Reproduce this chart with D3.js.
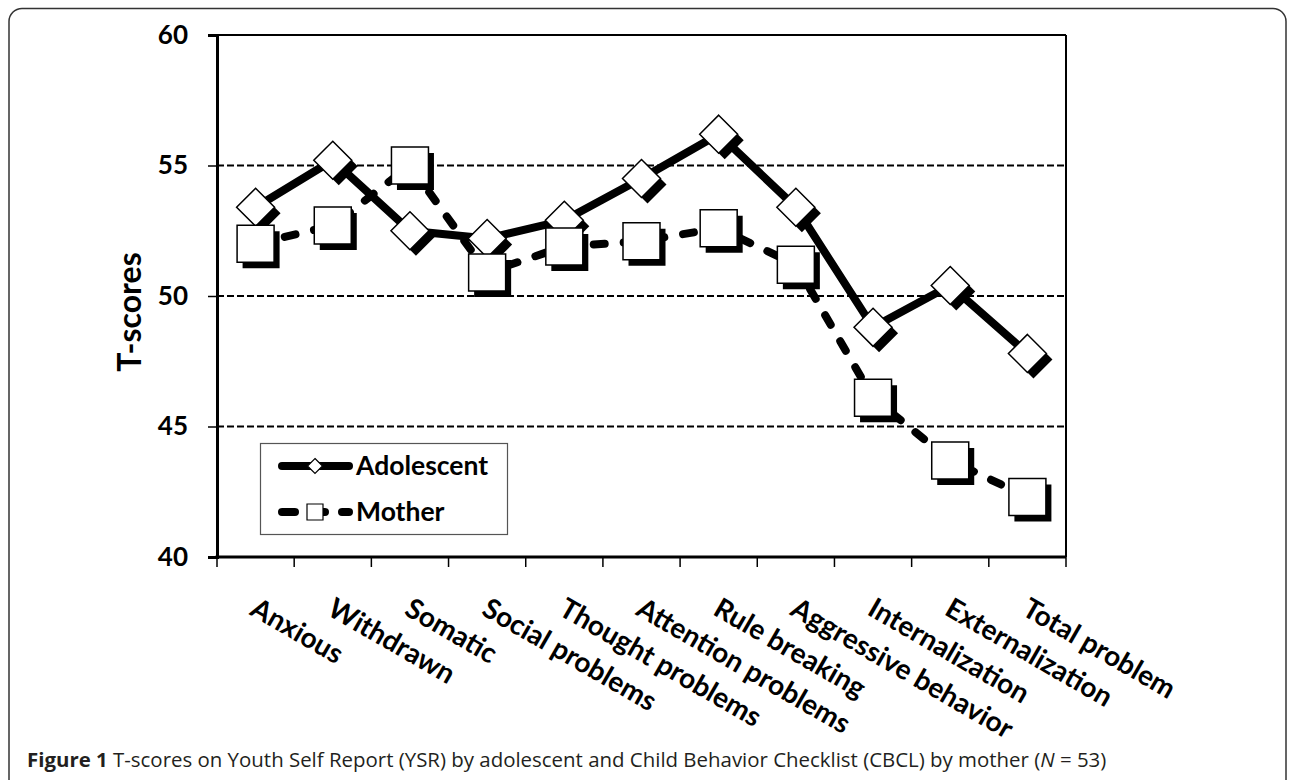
<!DOCTYPE html>
<html>
<head>
<meta charset="utf-8">
<script src="https://cdn.jsdelivr.net/npm/d3@7"></script>
<style>
  html, body { margin: 0; padding: 0; background: #fff; }
  svg { display: block; }
</style>
</head>
<body>
<svg id="chart" width="1290" height="780"></svg>
<script>
const categories = ["Anxious", "Withdrawn", "Somatic", "Social problems", "Thought problems",
  "Attention problems", "Rule breaking", "Aggressive behavior", "Internalization",
  "Externalization", "Total problem"];
const adolescent = [53.4, 55.2, 52.5, 52.2, 52.9, 54.5, 56.2, 53.4, 48.8, 50.4, 47.8];
const mother = [52.0, 52.7, 55.0, 50.9, 51.9, 52.1, 52.6, 51.2, 46.1, 43.7, 42.3];
const yTicks = [40, 45, 50, 55, 60];
const gridTicks = [45, 50, 55];
const seriesNames = ["Adolescent", "Mother"];
const yTitle = "T-scores";

(function () {
const svg = d3.select("#chart");
const FONT = "Lato, 'Open Sans', sans-serif";

const pLeft = 217, pRight = 1066, pTop = 35, pBottom = 557;
const x = d3.scaleBand().domain(categories).range([pLeft, pRight]);
const y = d3.scaleLinear().domain([40, 60]).range([pBottom, pTop]);
const cx = c => x(c) + x.bandwidth() / 2;

// outer frame
svg.append("rect")
  .attr("x", 9).attr("y", 8.5).attr("width", 1277).attr("height", 820)
  .attr("rx", 13).attr("fill", "none").attr("stroke", "#333").attr("stroke-width", 1.5);

// gridlines
svg.append("g").selectAll("line").data(gridTicks).join("line")
  .attr("x1", pLeft).attr("x2", pRight)
  .attr("y1", d => y(d)).attr("y2", d => y(d))
  .attr("stroke", "#000").attr("stroke-width", 2).attr("stroke-dasharray", "7,3");

// plot border top/right
svg.append("line").attr("x1", pLeft).attr("x2", pRight).attr("y1", y(60)).attr("y2", y(60))
  .attr("stroke", "#000").attr("stroke-width", 2);
svg.append("line").attr("x1", pRight).attr("x2", pRight).attr("y1", y(60)).attr("y2", y(40))
  .attr("stroke", "#000").attr("stroke-width", 2);

// y axis
const yAxis = svg.append("g").attr("transform", `translate(${pLeft},0)`)
  .call(d3.axisLeft(y).tickValues(yTicks).tickSize(9).tickPadding(20).tickFormat(d3.format("d")));
yAxis.select(".domain").attr("stroke", "#000").attr("stroke-width", 3);
yAxis.selectAll(".tick line").attr("stroke", "#000").attr("stroke-width", 1.5);
yAxis.selectAll(".tick text").attr("font-family", FONT).attr("font-weight", 700)
  .attr("font-size", 26).attr("fill", "#000");

// x axis: boundary ticks
const bounds = categories.map(c => x(c)).concat([x.range()[1]]);
svg.append("g").selectAll("line").data(bounds).join("line")
  .attr("x1", d => d).attr("x2", d => d).attr("y1", pBottom).attr("y2", pBottom + 10)
  .attr("stroke", "#000").attr("stroke-width", 1.5);
svg.append("line").attr("x1", pLeft - 1.5).attr("x2", pRight).attr("y1", pBottom).attr("y2", pBottom)
  .attr("stroke", "#000").attr("stroke-width", 3);

// x labels
svg.append("g").selectAll("text").data(categories).join("text")
  .attr("transform", d => `translate(${cx(d) - 7},${614}) rotate(30)`)
  .attr("font-family", FONT).attr("font-weight", 700).attr("font-size", 28)
  .attr("fill", "#000").attr("text-anchor", "start")
  .text(d => d);

// y title
svg.append("text")
  .attr("transform", "translate(141,312) rotate(-90)")
  .attr("text-anchor", "middle").attr("font-family", FONT).attr("font-weight", 700)
  .attr("font-size", 32).attr("fill", "#000").text(yTitle);

// series
const line = d3.line().x((d, i) => cx(categories[i])).y(d => y(d));
const diamond = (r) => `M0,${-r}L${r},0L0,${r}L${-r},0Z`;
const square = (s) => `M${-s},${-s}H${s}V${s}H${-s}Z`;

// Adolescent
svg.append("path").datum(adolescent).attr("d", line)
  .attr("fill", "none").attr("stroke", "#000").attr("stroke-width", 8)
  .attr("stroke-linejoin", "round");
const ga = svg.append("g").selectAll("g").data(adolescent).join("g")
  .attr("transform", (d, i) => `translate(${cx(categories[i])},${y(d)})`);
ga.append("path").attr("d", diamond(19)).attr("transform", "translate(6,6)").attr("fill", "#000");
ga.append("path").attr("d", diamond(19)).attr("fill", "#fff").attr("stroke", "#000").attr("stroke-width", 1.5);

// Mother
svg.append("path").datum(mother).attr("d", line)
  .attr("fill", "none").attr("stroke", "#000").attr("stroke-width", 8)
  .attr("stroke-linecap", "round").attr("stroke-dasharray", "11,19");
const gm = svg.append("g").selectAll("g").data(mother).join("g")
  .attr("transform", (d, i) => `translate(${cx(categories[i])},${y(d)})`);
gm.append("path").attr("d", square(18.5)).attr("transform", "translate(5.5,6)").attr("fill", "#000");
gm.append("path").attr("d", square(18.5)).attr("fill", "#fff").attr("stroke", "#000").attr("stroke-width", 1.5);

// legend
const lg = svg.append("g");
lg.append("rect").attr("x", 260.5).attr("y", 443.5).attr("width", 247).attr("height", 91)
  .attr("fill", "#fff").attr("stroke", "#555").attr("stroke-width", 1.2);
const rows = [466, 512];
lg.append("line").attr("x1", 282).attr("x2", 349).attr("y1", rows[0]).attr("y2", rows[0])
  .attr("stroke", "#000").attr("stroke-width", 8).attr("stroke-linecap", "round");
lg.append("path").attr("d", diamond(7.5)).attr("transform", `translate(315,${rows[0]})`)
  .attr("fill", "#fff").attr("stroke", "#000").attr("stroke-width", 1.2);
lg.append("line").attr("x1", 282).attr("x2", 349).attr("y1", rows[1]).attr("y2", rows[1])
  .attr("stroke", "#000").attr("stroke-width", 8).attr("stroke-linecap", "round")
  .attr("stroke-dasharray", "13,17");
lg.append("path").attr("d", square(8)).attr("transform", `translate(315,${rows[1]})`)
  .attr("fill", "#fff").attr("stroke", "#000").attr("stroke-width", 1.2);
lg.selectAll("text.lt").data(seriesNames).join("text").attr("class", "lt")
  .attr("x", 356).attr("y", (d, i) => rows[i] + 9)
  .attr("font-family", FONT).attr("font-weight", 700).attr("font-size", 26.5).attr("fill", "#000")
  .text(d => d);

// caption
const cap = svg.append("text").attr("x", 27).attr("y", 767)
  .attr("font-family", "'Open Sans', 'Noto Sans', sans-serif").attr("font-size", 19).attr("fill", "#231f20");
cap.append("tspan").attr("font-weight", 700).text("Figure 1");
cap.append("tspan").text(" T-scores on Youth Self Report (YSR) by adolescent and Child Behavior Checklist (CBCL) by mother (");
cap.append("tspan").attr("font-style", "italic").text("N");
cap.append("tspan").text(" = 53)");
const target = 1080;
const len = cap.node().getComputedTextLength();
if (len > 0) cap.attr("font-size", 19 * target / len);
})();
</script>
</body>
</html>
